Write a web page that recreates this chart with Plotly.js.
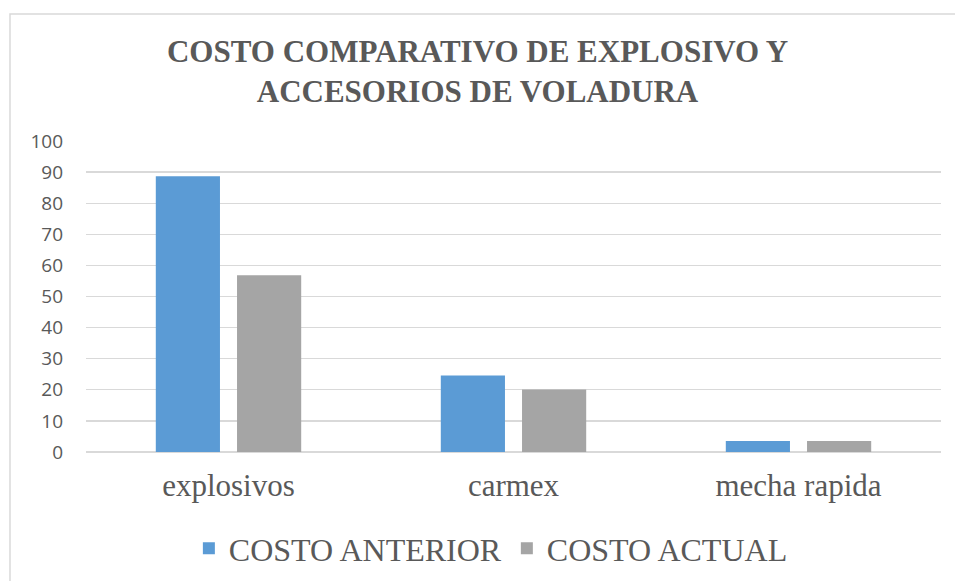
<!DOCTYPE html>
<html>
<head>
<meta charset="utf-8">
<script src="https://cdn.plot.ly/plotly-3.0.1.min.js"></script>
<style>
  html, body { margin: 0; padding: 0; background: #ffffff; }
  #chart { width: 955px; height: 581px; }
</style>
</head>
<body>
<div id="chart"></div>
<script>
const categories = ['explosivos', 'carmex', 'mecha rapida'];
const costoAnterior = [88.7, 24.6, 3.5];
const costoActual = [56.8, 20.1, 3.5];
const seriesNames = ['COSTO ANTERIOR', 'COSTO ACTUAL'];
const titleText = 'COSTO COMPARATIVO DE EXPLOSIVO Y<br>ACCESORIOS DE VOLADURA';
const yTicks = [0, 10, 20, 30, 40, 50, 60, 70, 80, 90, 100];

const textColor = '#595959';
const gridColor = '#D9D9D9';
const serif = 'Liberation Serif';

const traces = [
  {
    type: 'bar',
    name: seriesNames[0],
    x: categories,
    y: costoAnterior,
    marker: { color: '#5B9BD5', line: { width: 0 } },
    hoverinfo: 'none'
  },
  {
    type: 'bar',
    name: seriesNames[1],
    x: categories,
    y: costoActual,
    marker: { color: '#A5A5A5', line: { width: 0 } },
    hoverinfo: 'none'
  }
];

const layout = {
  width: 955,
  height: 581,
  paper_bgcolor: '#ffffff',
  plot_bgcolor: '#ffffff',
  margin: { l: 86, r: 14, t: 141, b: 129, autoexpand: false },
  barmode: 'group',
  bargap: 0.43,
  bargroupgap: 0.21,
  showlegend: true,
  title: {
    text: titleText,
    font: { family: serif, size: 31, color: textColor, weight: 'bold' },
    x: 0.5,
    xref: 'container',
    xanchor: 'center',
    y: 0.893,
    yref: 'container',
    yanchor: 'top',
    automargin: false
  },
  xaxis: {
    type: 'category',
    showgrid: false,
    showline: false,
    zeroline: false,
    ticks: '',
    tickfont: { family: serif, size: 31, color: textColor },
    ticklabelstandoff: 12,
    automargin: false
  },
  yaxis: {
    range: [0, 100],
    tickvals: yTicks,
    ticktext: yTicks.map(String),
    showgrid: true,
    gridcolor: gridColor,
    gridwidth: 1.3,
    zeroline: true,
    zerolinecolor: gridColor,
    zerolinewidth: 1.3,
    showline: false,
    ticks: '',
    tickfont: { family: 'Open Sans', size: 19, color: textColor },
    ticklabelstandoff: 22,
    automargin: false
  },
  legend: {
    orientation: 'h',
    x: 0.514,
    xref: 'container',
    xanchor: 'center',
    y: 0.056,
    yref: 'container',
    yanchor: 'middle',
    font: { family: serif, size: 32, color: textColor },
    itemclick: false,
    itemdoubleclick: false,
    bgcolor: 'rgba(0,0,0,0)'
  },
  shapes: [
    {
      type: 'rect',
      xref: 'paper',
      yref: 'paper',
      x0: -0.0889,
      x1: 1.2,
      y0: -0.6,
      y1: 1.4087,
      line: { color: gridColor, width: 1.5 },
      fillcolor: 'rgba(0,0,0,0)',
      layer: 'below'
    }
  ]
};

Plotly.newPlot('chart', traces, layout, { staticPlot: true, displayModeBar: false });
</script>
</body>
</html>
